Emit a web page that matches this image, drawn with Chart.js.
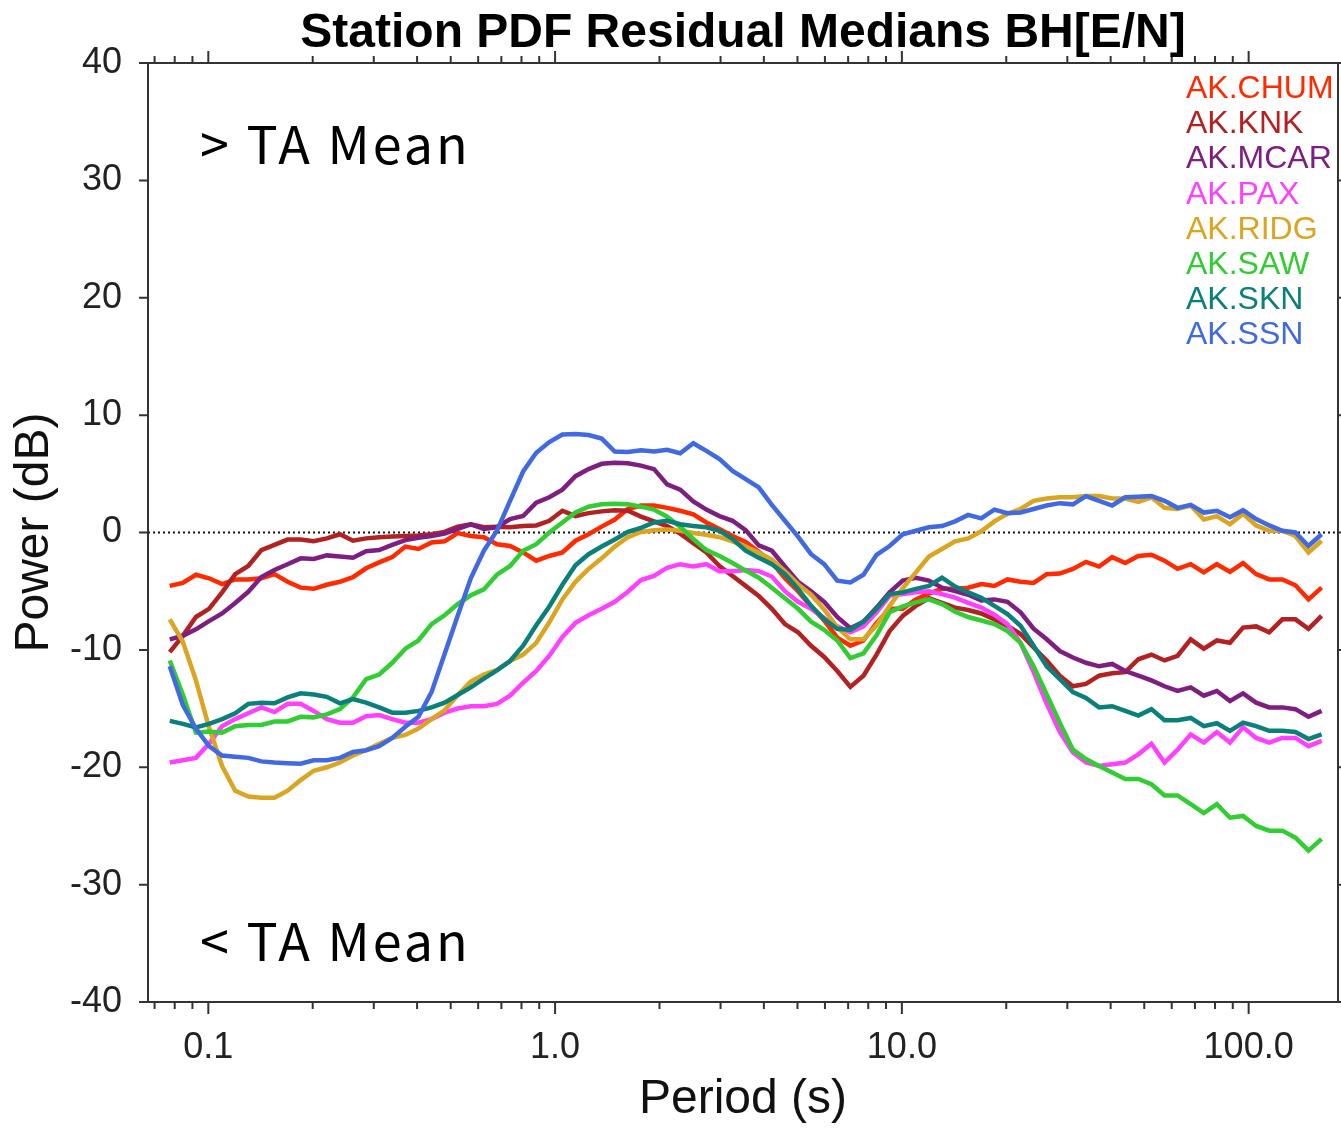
<!DOCTYPE html>
<html>
<head>
<meta charset="utf-8">
<title>Station PDF Residual Medians BH[E/N]</title>
<script src="https://cdn.jsdelivr.net/npm/chart.js@4.4.1/dist/chart.umd.min.js"></script>
<style>
  html, body { margin: 0; padding: 0; background: #fff; }
  #wrap { width: 1341px; height: 1129px; }
</style>
</head>
<body>
<div id="wrap"><canvas id="residualChart" width="1341" height="1129"></canvas></div>
<script>
// periods (s), 1/8 octave steps
const periods = [
    0.0774, 0.08443, 0.09210, 0.10046, 0.10958, 0.11953, 0.13038, 0.14222, 0.15513, 0.16922,
    0.18458, 0.20135, 0.21963, 0.23957, 0.26132, 0.28505, 0.31093, 0.33917, 0.36996, 0.40356,
    0.44020, 0.48017, 0.52377, 0.57133, 0.62321, 0.67980, 0.74152, 0.80885, 0.88229, 0.96241,
    1.0498, 1.1451, 1.2491, 1.3625, 1.4862, 1.6212, 1.7684, 1.9290, 2.1041, 2.2952,
    2.5036, 2.7309, 2.9789, 3.2493, 3.5444, 3.8662, 4.2173, 4.6002, 5.0179, 5.4735,
    5.9705, 6.5126, 7.1040, 7.7490, 8.4526, 9.2201, 10.058, 10.971, 11.967, 13.054,
    14.239, 15.532, 16.942, 18.481, 20.159, 21.989, 23.986, 26.164, 28.539, 31.131,
    33.957, 37.041, 40.404, 44.072, 48.074, 52.440, 57.201, 62.395, 68.060, 74.240,
    80.981, 88.334, 96.355, 105.10, 114.65, 125.06, 136.42, 148.80, 162.31];

const stations = ['AK.CHUM', 'AK.KNK', 'AK.MCAR', 'AK.PAX', 'AK.RIDG', 'AK.SAW', 'AK.SKN', 'AK.SSN'];
const stationColors = ['#ff2a00', '#b22222', '#7e1e80', '#ff40ff', '#daa520', '#32cd32', '#0a807b', '#4169e1'];

const chum = [
    -4.55, -4.3, -3.6, -3.9, -4.4, -4.0, -4.0, -3.9, -3.55, -4.2, -4.7, -4.8, -4.45, -4.2, -3.8, -3.05,
    -2.55, -2.1, -1.2, -1.4, -0.85, -0.75, -0.05, -0.3, -0.4, -1.0, -1.15, -1.7, -2.4, -2.0, -1.7, -0.7,
    -0.15, 0.5, 1.1, 2.0, 2.3, 2.3, 2.1, 1.85, 1.55, 0.85, 0.3, -0.3, -0.8, -1.65, -2.55, -3.9,
    -5.0, -6.3, -7.5, -8.95, -9.65, -9.2, -7.7, -6.5, -6.5, -5.7, -5.2, -4.8, -4.8, -4.7, -4.4, -4.55, -4.0,
    -4.2, -4.3, -3.55, -3.5, -3.1, -2.5, -2.9, -2.1, -2.6, -2.0, -1.9, -2.4, -3.1, -2.7, -3.4, -2.7,
    -3.35, -2.6, -3.55, -4.0, -4.0, -4.5, -5.7, -4.7];
const knk = [
    -10.2, -8.8, -7.2, -6.5, -5.1, -3.55, -2.85, -1.5, -1.05, -0.6, -0.6, -0.75, -0.5, -0.15, -0.7, -0.5,
    -0.4, -0.35, -0.3, -0.25, -0.15, 0.05, 0.5, 0.7, 0.45, 0.5, 0.45, 0.55, 0.6, 1.0, 1.85, 1.4,
    1.65, 1.8, 1.9, 1.85, 1.35, 0.95, 0.55, -0.1, -0.9, -1.7, -2.85, -3.7, -4.55, -5.4, -6.5, -7.8,
    -8.5, -9.65, -10.6, -11.8, -13.15, -12.2, -10.4, -8.4, -7.1, -6.25, -5.6, -6.0, -6.4, -6.6, -6.9, -7.4, -7.95,
    -8.65, -9.8, -10.9, -12.2, -13.1, -12.9, -12.2, -12.0, -11.9, -10.8, -10.4, -10.9, -10.5, -9.1, -9.9, -9.2,
    -9.4, -8.1, -8.0, -8.5, -7.4, -7.4, -8.2, -7.1];
const mcar = [
    -9.1, -8.8, -8.25, -7.55, -6.9, -6.0, -5.05, -3.8, -3.2, -2.7, -2.2, -2.25, -1.95, -2.05, -2.15, -1.6,
    -1.5, -1.05, -0.65, -0.45, -0.3, -0.1, 0.3, 0.7, 0.3, 0.45, 1.15, 1.4, 2.55, 3.0, 3.65, 4.8,
    5.4, 5.85, 5.95, 5.9, 5.7, 5.4, 4.1, 3.65, 2.65, 1.95, 1.4, 1.0, 0.2, -1.1, -1.55, -2.9,
    -4.2, -5.0, -5.9, -7.2, -8.15, -7.6, -6.4, -5.1, -4.1, -3.85, -4.1, -4.7, -5.0, -5.3, -5.8, -5.7, -5.9,
    -6.8, -8.2, -9.1, -10.1, -10.65, -11.1, -11.4, -11.2, -11.8, -12.2, -12.6, -13.1, -13.5, -13.2, -13.9, -13.5,
    -14.35, -13.7, -14.5, -14.9, -14.9, -15.05, -15.7, -15.2];
const pax = [
    -19.6, -19.4, -19.2, -18.0, -16.5, -15.9, -15.4, -14.9, -15.3, -14.6, -14.6, -15.2, -15.9, -16.2, -16.2, -15.65,
    -15.55, -15.9, -16.2, -16.2, -15.9, -15.35, -15.0, -14.8, -14.8, -14.6, -13.9, -12.8, -11.8, -10.5, -8.9, -7.7,
    -7.05, -6.5, -5.9, -5.05, -4.05, -3.7, -3.0, -2.7, -2.9, -2.7, -3.3, -3.3, -3.2, -3.3, -3.75, -5.0,
    -5.9, -6.5, -7.3, -8.0, -8.5, -8.0, -6.8, -5.4, -5.25, -5.1, -5.0, -5.25, -5.55, -6.0, -6.4, -7.0, -7.8,
    -9.4, -11.9, -14.6, -17.0, -18.75, -19.6, -19.9, -19.75, -19.6, -18.9, -18.0, -19.6, -18.5, -17.2, -17.9, -17.0,
    -17.9, -16.6, -17.5, -17.9, -17.5, -17.5, -18.2, -17.75];
const ridg = [
    -7.4, -9.3, -12.6, -16.6, -19.9, -22.0, -22.5, -22.6, -22.6, -22.0, -21.1, -20.3, -20.0, -19.6, -19.0, -18.55,
    -18.0, -17.5, -17.25, -16.7, -15.9, -15.15, -13.85, -12.7, -12.1, -11.7, -10.95, -10.4, -9.4, -7.65, -5.7, -4.2,
    -3.1, -2.2, -1.2, -0.4, 0.05, 0.2, 0.25, 0.15, -0.05, -0.2, -0.4, -0.75, -1.2, -1.7, -2.3, -3.3,
    -4.4, -5.3, -6.55, -8.1, -9.1, -9.1, -7.9, -6.25, -4.75, -3.4, -2.05, -1.4, -0.75, -0.5, 0.1, 0.95, 1.6,
    2.0, 2.7, 2.9, 3.0, 3.0, 3.1, 3.1, 2.9, 2.9, 2.6, 3.0, 2.1, 2.0, 2.3, 1.1, 1.4,
    0.7, 1.6, 0.6, 0.15, 0.15, -0.3, -1.7, -0.7];
const saw = [
    -10.9, -13.8, -17.05, -16.95, -17.05, -16.5, -16.4, -16.4, -16.1, -16.1, -15.7, -15.75, -15.5, -15.05, -14.05, -12.5,
    -12.1, -11.1, -9.9, -9.2, -7.8, -7.05, -6.1, -5.35, -4.85, -3.6, -2.85, -1.55, -1.0, 0.0, 0.85, 1.7,
    2.2, 2.4, 2.45, 2.4, 2.2, 1.95, 1.35, 0.5, -0.55, -1.5, -2.0, -2.6, -3.25, -3.85, -4.7, -5.6,
    -6.5, -7.6, -8.3, -9.2, -10.7, -10.3, -8.75, -6.8, -6.3, -5.95, -5.7, -6.1, -6.75, -7.2, -7.5, -7.8, -8.4,
    -9.4, -11.4, -13.8, -16.2, -18.5, -19.3, -19.9, -20.45, -21.0, -21.0, -21.45, -22.4, -22.4, -23.15, -23.9, -23.15,
    -24.3, -24.15, -25.0, -25.4, -25.4, -26.0, -27.1, -26.1];
const skn = [
    -16.05, -16.3, -16.6, -16.3, -15.9, -15.4, -14.6, -14.5, -14.55, -14.05, -13.7, -13.8, -14.0, -14.55, -14.2, -14.5,
    -14.9, -15.35, -15.35, -15.2, -14.9, -14.5, -13.85, -13.2, -12.45, -11.75, -10.95, -9.65, -7.9, -6.3, -4.45, -2.8,
    -1.85, -1.2, -0.6, 0.05, 0.4, 0.85, 1.0, 0.7, 0.55, 0.45, 0.15, -0.55, -1.55, -2.15, -2.7, -3.55,
    -4.8, -6.25, -7.4, -8.2, -8.3, -7.6, -6.5, -5.25, -5.1, -4.8, -4.55, -3.85, -4.6, -5.1, -5.55, -6.25, -6.95,
    -7.95, -9.65, -11.4, -12.5, -13.6, -14.1, -14.9, -14.8, -15.2, -15.6, -15.05, -16.0, -16.0, -15.8, -16.5, -16.25,
    -16.9, -16.2, -16.5, -16.9, -16.9, -17.0, -17.6, -17.2];
const ssn = [
    -11.4, -14.7, -16.7, -18.2, -19.0, -19.1, -19.2, -19.5, -19.6, -19.66, -19.7, -19.4, -19.4, -19.2, -18.7, -18.55,
    -18.2, -17.5, -16.55, -15.7, -13.6, -10.35, -7.1, -3.9, -1.55, 0.15, 2.7, 5.2, 6.8, 7.7, 8.35, 8.4,
    8.3, 8.0, 6.9, 6.85, 7.0, 6.9, 7.05, 6.75, 7.6, 6.95, 6.25, 5.25, 4.55, 3.85, 2.35, 1.0,
    -0.35, -1.85, -2.7, -4.1, -4.25, -3.6, -1.9, -1.15, -0.15, 0.15, 0.45, 0.55, 0.95, 1.5, 1.2, 1.95, 1.65,
    1.7, 2.0, 2.3, 2.5, 2.4, 3.1, 2.7, 2.3, 3.0, 3.05, 3.1, 2.7, 2.1, 2.35, 1.7, 1.85,
    1.3, 1.9, 1.15, 0.6, 0.15, 0.0, -1.15, -0.15];

const seriesValues = [chum, knk, mcar, pax, ridg, saw, skn, ssn];
const majorPeriods = [0.1, 1, 10, 100];
const yTicks = [-40, -30, -20, -10, 0, 10, 20, 30, 40];

const FONT = "'Liberation Sans', Arial, sans-serif";
Chart.defaults.font.family = FONT;

const datasets = stations.map((name, i) => ({
    label: name,
    data: periods.map((p, j) => ({ x: p, y: seriesValues[i][j] })),
    borderColor: stationColors[i],
    borderWidth: 4.5,
    pointRadius: 0,
    tension: 0,
    fill: false,
    order: stations.length - i
}));

// frame, ticks on all four sides, zero line and annotations
const framePlugin = {
    id: 'frame',
    beforeDatasetsDraw(chart) {
        const { ctx, chartArea: a, scales: { y } } = chart;
        const y0 = y.getPixelForValue(0);
        ctx.save();
        ctx.strokeStyle = '#111';
        ctx.lineWidth = 2;
        ctx.setLineDash([2, 3]);
        ctx.beginPath();
        ctx.moveTo(a.left, y0);
        ctx.lineTo(a.right, y0);
        ctx.stroke();
        ctx.restore();
    },
    afterDraw(chart) {
        const { ctx, chartArea: a, scales: { x, y } } = chart;
        ctx.save();
        ctx.strokeStyle = '#333';
        ctx.lineWidth = 2;
        ctx.strokeRect(a.left, a.top, a.right - a.left, a.bottom - a.top);

        ctx.beginPath();
        for (let d = -2; d <= 2; d++) {
            for (let k = 1; k <= 9; k++) {
                const v = k * Math.pow(10, d);
                if (v < x.min || v > x.max) continue;
                const px = x.getPixelForValue(v);
                const len = k === 1 ? 12 : 7;
                ctx.moveTo(px, a.bottom);
                ctx.lineTo(px, a.bottom + len);
                ctx.moveTo(px, a.top);
                ctx.lineTo(px, a.top - len);
            }
        }
        yTicks.forEach(v => {
            const py = y.getPixelForValue(v);
            ctx.moveTo(a.left - 9, py);
            ctx.lineTo(a.left, py);
            ctx.moveTo(a.right, py);
            ctx.lineTo(a.right + 9, py);
        });
        ctx.stroke();

        // title
        ctx.fillStyle = '#000';
        ctx.textAlign = 'center';
        ctx.textBaseline = 'alphabetic';
        ctx.font = 'bold 48px ' + FONT;
        ctx.fillText('Station PDF Residual Medians BH[E/N]', (a.left + a.right) / 2, 47);

        // above / below annotations
        ctx.textAlign = 'left';
        ctx.font = "52px 'Noto Sans CJK JP', 'Noto Sans', sans-serif";
        ctx.letterSpacing = '3px';
        ctx.fillStyle = '#000';
        ctx.fillText('> TA Mean', 200, 164);
        ctx.fillText('< TA Mean', 200, 961);
        ctx.letterSpacing = '0px';

        // legend
        ctx.font = '32px ' + FONT;
        stations.forEach((name, i) => {
            ctx.fillStyle = stationColors[i];
            ctx.fillText(name, 1186, 98 + i * 35.2);
        });
        ctx.restore();
    }
};

const residualChart = new Chart(document.getElementById('residualChart'), {
    type: 'line',
    data: { datasets },
    options: {
        responsive: false,
        animation: false,
        devicePixelRatio: 1,
        layout: { padding: { top: 63, right: 3, left: 0, bottom: 0 } },
        plugins: {
            legend: { display: false },
            tooltip: { enabled: false }
        },
        scales: {
            x: {
                type: 'logarithmic',
                position: 'bottom',
                min: 0.067,
                max: 181,
                afterBuildTicks: scale => { scale.ticks = majorPeriods.map(v => ({ value: v })); },
                afterFit: scale => { scale.height = 127; },
                grid: { display: false, drawTicks: false },
                border: { display: false },
                ticks: {
                    autoSkip: false,
                    maxRotation: 0,
                    padding: 24,
                    color: '#222',
                    font: { size: 36 },
                    callback: value => Number(value).toFixed(1)
                },
                title: {
                    display: true,
                    text: 'Period (s)',
                    color: '#111',
                    font: { size: 48 },
                    padding: { top: 0, bottom: 0 }
                }
            },
            y: {
                min: -40,
                max: 40,
                afterBuildTicks: scale => { scale.ticks = yTicks.map(v => ({ value: v })); },
                afterFit: scale => { scale.width = 148; },
                grid: { display: false, drawTicks: false },
                border: { display: false },
                ticks: {
                    padding: 26,
                    color: '#222',
                    font: { size: 36 }
                },
                title: {
                    display: true,
                    text: 'Power (dB)',
                    color: '#111',
                    font: { size: 48 },
                    padding: { top: 6, bottom: 0 }
                }
            }
        }
    },
    plugins: [framePlugin]
});
</script>
</body>
</html>
